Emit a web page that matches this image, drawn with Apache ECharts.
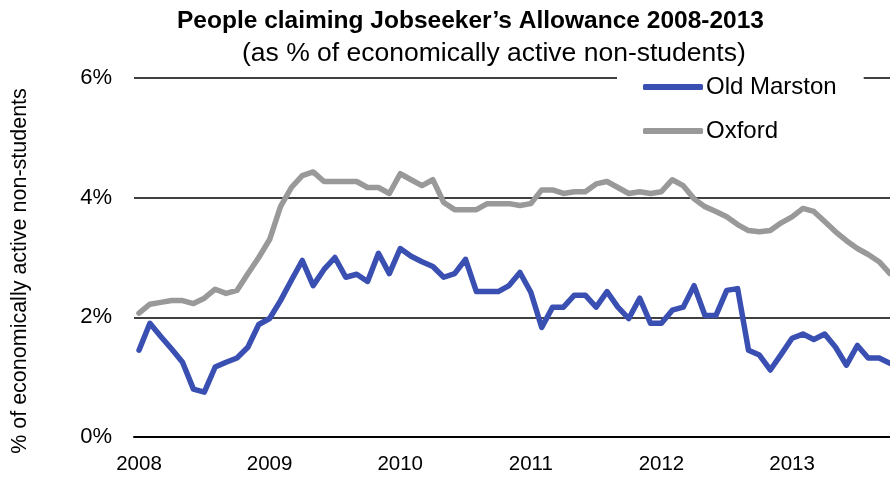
<!DOCTYPE html>
<html>
<head>
<meta charset="utf-8">
<script src="https://cdn.jsdelivr.net/npm/echarts@6/dist/echarts.min.js"></script>
<style>
html,body{margin:0;padding:0;background:#fff;}
#chart{width:890px;height:478px;}
</style>
</head>
<body>
<div id="chart"></div>
<script>
// Monthly data, Jan 2008 – Oct 2013 (70 months)
var startYear = 2008;
var yearTicks = ['2008', '2009', '2010', '2011', '2012', '2013'];
var yTicks = [0, 2, 4, 6];

var oldMarston = [
  1.45, 1.90, 1.68, 1.47, 1.25, 0.80, 0.75, 1.17, 1.25, 1.32, 1.50, 1.88,
  1.98, 2.28, 2.62, 2.95, 2.53, 2.80, 3.00, 2.67, 2.72, 2.60, 3.07, 2.73,
  3.15, 3.02, 2.93, 2.85, 2.67, 2.73, 2.97, 2.43, 2.43, 2.43, 2.53, 2.75,
  2.42, 1.83, 2.17, 2.17, 2.37, 2.37, 2.17, 2.43, 2.17, 1.98, 2.32, 1.90,
  1.90, 2.12, 2.17, 2.53, 2.03, 2.03, 2.45, 2.48, 1.45, 1.37, 1.12, 1.38,
  1.65, 1.72, 1.63, 1.72, 1.50, 1.20, 1.53, 1.32, 1.32, 1.23
];
var oxford = [
  2.07, 2.22, 2.25, 2.28, 2.28, 2.23, 2.32, 2.47, 2.40, 2.45, 2.73, 3.00,
  3.30, 3.85, 4.17, 4.37, 4.43, 4.27, 4.27, 4.27, 4.27, 4.17, 4.17, 4.07,
  4.40, 4.30, 4.20, 4.30, 3.92, 3.80, 3.80, 3.80, 3.90, 3.90, 3.90, 3.87,
  3.90, 4.13, 4.13, 4.07, 4.10, 4.10, 4.23, 4.27, 4.17, 4.07, 4.10, 4.07,
  4.10, 4.30, 4.20, 3.98, 3.85, 3.77, 3.68, 3.55, 3.45, 3.43, 3.45, 3.58,
  3.68, 3.82, 3.77, 3.60, 3.43, 3.28, 3.15, 3.05, 2.93, 2.73
];

function toPairs(arr) { return arr.map(function (v, i) { return [i, v]; }); }
var tickMonths = yearTicks.map(function (y) { return (parseInt(y, 10) - startYear) * 12; });

var FONT = '"Liberation Sans", Arial, sans-serif';
var chart = echarts.init(document.getElementById('chart'), null, { renderer: 'canvas' });
chart.setOption({
  animation: false,
  backgroundColor: '#ffffff',
  textStyle: { fontFamily: FONT },
  title: [
    { text: 'People claiming Jobseeker\u2019s Allowance 2008-2013', left: 172, top: 4,
      textStyle: { fontFamily: FONT, fontSize: 24.5, fontWeight: 'bold', color: '#000' } },
    { text: '(as % of economically active non-students)', left: 237, top: 35,
      textStyle: { fontFamily: FONT, fontSize: 26.5, fontWeight: 'normal', color: '#000' } }
  ],
  legend: {
    orient: 'vertical',
    left: 617, top: 64,
    padding: [10, 27, 10, 26],
    backgroundColor: '#ffffff',
    itemWidth: 60, itemHeight: 6, itemGap: 18,
    icon: 'roundRect',
    textStyle: { fontFamily: FONT, fontSize: 24, color: '#000', lineHeight: 26, padding: [0, 0, 0, -2] },
    data: ['Old Marston', 'Oxford']
  },
  graphic: [{
    type: 'text', x: 20, y: 271, rotation: Math.PI / 2,
    style: { text: '% of economically active non-students', font: '21.5px ' + FONT,
      fill: '#000', textAlign: 'center', textVerticalAlign: 'middle' }
  }],
  grid: { left: 134, right: 0, top: 78, bottom: 41, containLabel: false },
  xAxis: {
    type: 'value', min: -0.46, max: 69,
    axisLine: { show: true, onZero: true, lineStyle: { color: '#000', width: 2 } },
    axisTick: { show: false },
    splitLine: { show: false },
    axisLabel: {
      customValues: tickMonths,
      formatter: function (v) { return String(startYear + Math.round(v / 12)); },
      fontFamily: FONT, fontSize: 20.5, color: '#000', margin: 17
    }
  },
  yAxis: {
    type: 'value', min: 0, max: 6, interval: 2,
    axisLine: { show: false }, axisTick: { show: false },
    splitLine: { show: true, lineStyle: { color: '#000', width: 1.5 } },
    axisLabel: { formatter: '{value}%', fontFamily: FONT, fontSize: 22, color: '#000', margin: 22 }
  },
  series: [
    { name: 'Oxford', type: 'line', data: toPairs(oxford), showSymbol: false, symbol: 'none',
      color: '#999999', lineStyle: { width: 5.5, color: '#999999', cap: 'round', join: 'round' }, z: 2 },
    { name: 'Old Marston', type: 'line', data: toPairs(oldMarston), showSymbol: false, symbol: 'none',
      color: '#3a4fb2', lineStyle: { width: 5.5, color: '#3a4fb2', cap: 'round', join: 'round' }, z: 3 }
  ]
});
</script>
</body>
</html>
